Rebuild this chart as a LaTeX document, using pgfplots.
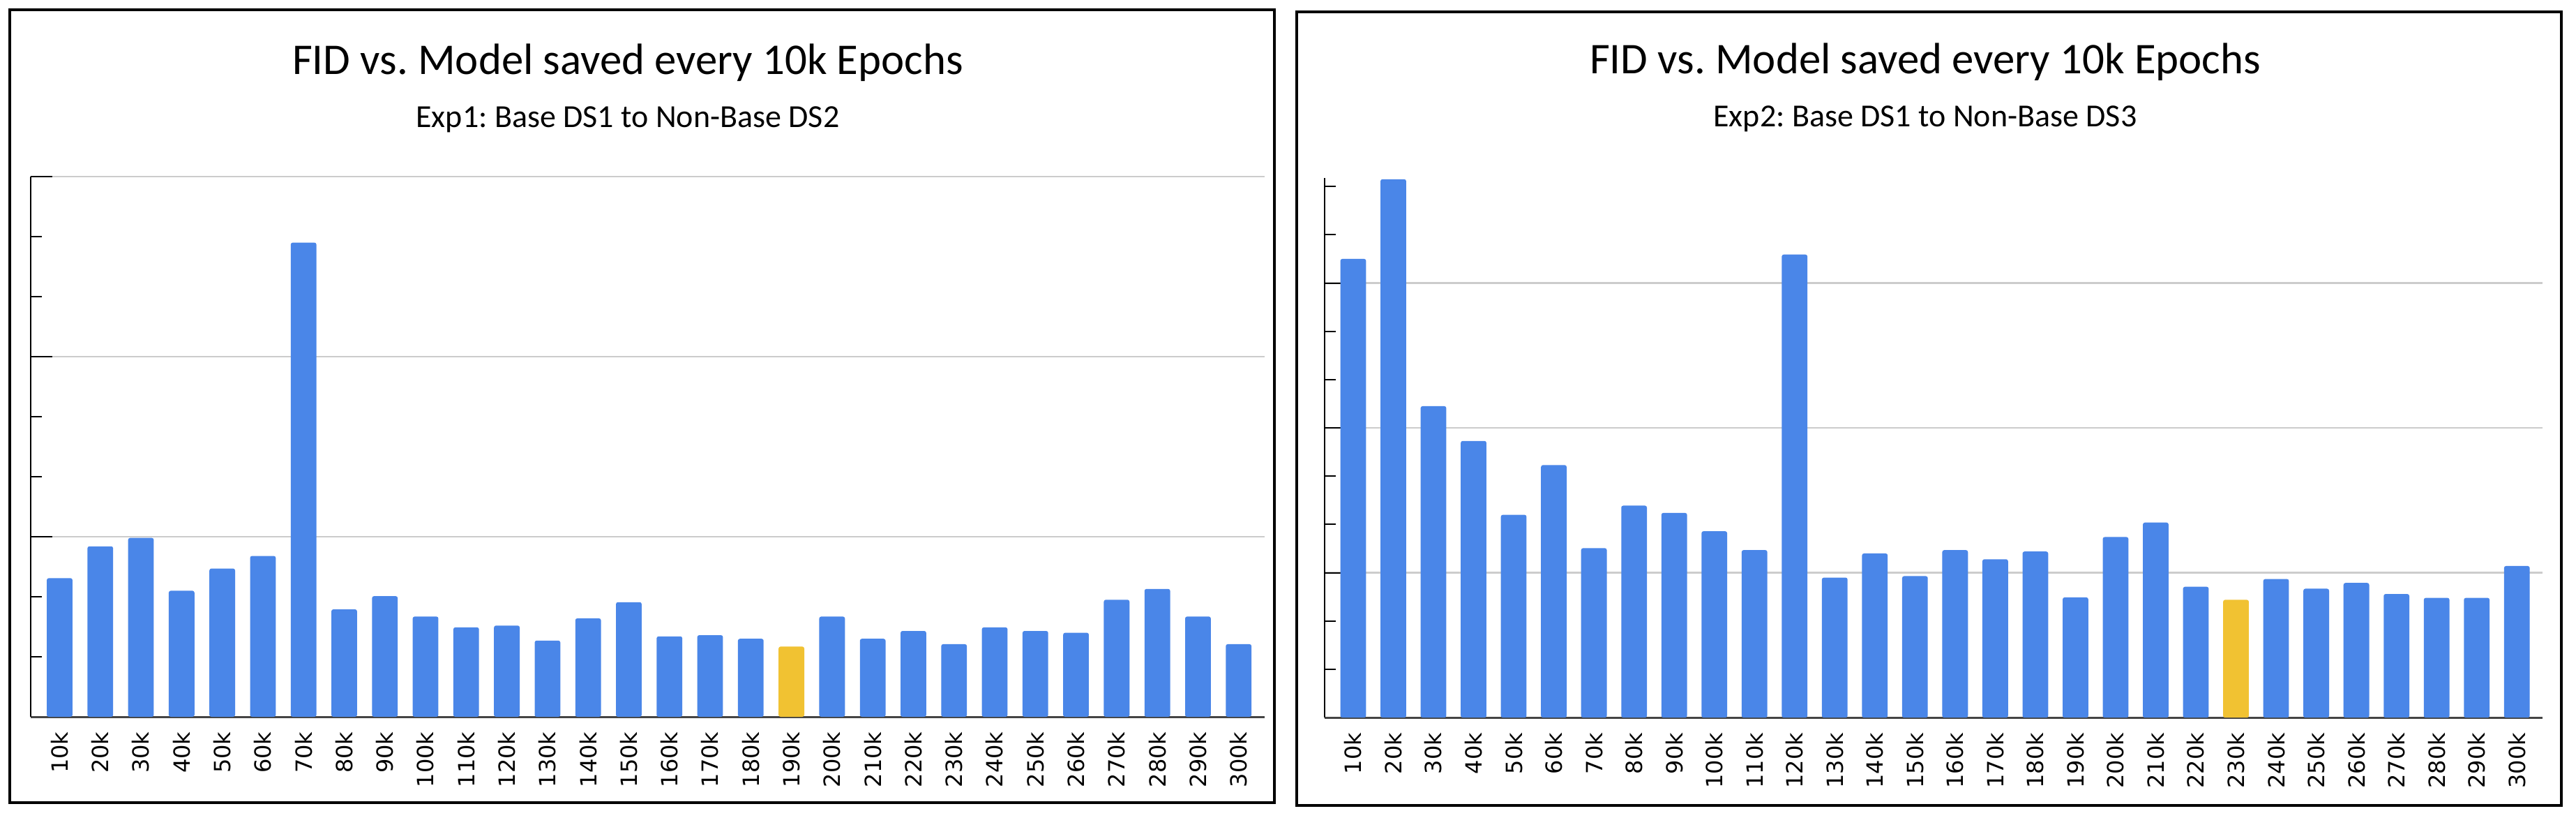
\documentclass[border=0pt]{standalone}
\usepackage{pgfplots}
\pgfplotsset{compat=1.18}
\usepackage{fontspec}
\newfontfamily\carlito{Carlito}
\newfontfamily\dejavu{DejaVu Sans}
\definecolor{barblue}{HTML}{4A86E8}
\definecolor{baryellow}{HTML}{F1C232}
\definecolor{gridgray}{HTML}{CCCCCC}
\definecolor{axisgray}{HTML}{444444}
\frenchspacing
\pgfplotsset{
  fidstyle/.style={
    anchor=south west, scale only axis,
    xmin=-0.712, xmax=29.64, ymin=0,
    ybar, bar width=9.2pt, bar shift=0pt,
    axis x line*=bottom, axis y line*=left,
    x axis line style={draw=axisgray, line width=0.75pt},
    y axis line style={draw=black, line width=0.5pt},
    xtick={0,...,29},
    xticklabels={10k,20k,30k,40k,50k,60k,70k,80k,90k,100k,110k,120k,130k,140k,150k,160k,170k,180k,190k,200k,210k,220k,230k,240k,250k,260k,270k,280k,290k,300k},
    x tick style={draw=none},
    xticklabel style={font=\dejavu\fontsize{8pt}{9pt}\selectfont, rotate=90, anchor=east, inner sep=0pt},
    xticklabel shift=5.2pt,
    ytick={0,3,6,9},
    yticklabels={,,,,},
    y tick style={draw=black, line width=0.5pt},
    minor y tick style={draw=black, line width=0.5pt},
    tick align=inside, major tick length=7.75pt, minor tick length=4pt,
    ymajorgrids, major grid style={draw=gridgray, line width=0.6pt},
    every axis plot/.append style={draw=none, rounded corners=0.7pt},
  }
}
\begin{document}
\begin{tikzpicture}
\fill[white] (0,0) rectangle (923.25pt,292.75pt);
\useasboundingbox (0,0) rectangle (923.25pt,292.75pt);
% frames
\draw[black, line width=0.9pt] (3.5pt,5.25pt) rectangle (456.75pt,289.25pt);
\draw[black, line width=0.9pt] (464.75pt,4.25pt) rectangle (918pt,288.5pt);
% titles
\node[anchor=base, inner sep=0pt, font=\carlito\fontsize{15.7pt}{18pt}\selectfont] at (225pt,266pt) {FID vs. Model saved every 10k Epochs};
\node[anchor=base, inner sep=0pt, font=\carlito\fontsize{11.5pt}{13pt}\selectfont] at (225pt,247.25pt) {Exp1: Base DS1 to Non-Base DS2};
\node[anchor=base, inner sep=0pt, font=\carlito\fontsize{15.7pt}{18pt}\selectfont] at (690pt,266.5pt) {FID vs. Model saved every 10k Epochs};
\node[anchor=base, inner sep=0pt, font=\carlito\fontsize{11.5pt}{13pt}\selectfont] at (690pt,247.5pt) {Exp2: Base DS1 to Non-Base DS3};

\begin{axis}[fidstyle, at={(11pt,36pt)}, width=442.25pt, height=193.5pt,
  ymax=9, minor ytick={1,2,4,5,7,8}]
\addplot[fill=barblue] coordinates {
(0,2.31) (1,2.84) (2,2.98) (3,2.10) (4,2.47) (5,2.68) (6,7.90) (7,1.79) (8,2.01) (9,1.67)
(10,1.49) (11,1.52) (12,1.27) (13,1.64) (14,1.91) (15,1.34) (16,1.36) (17,1.30)
(19,1.67) (20,1.30) (21,1.43) (22,1.21) (23,1.49) (24,1.43) (25,1.40) (26,1.95) (27,2.13) (28,1.67) (29,1.21)};
\addplot[fill=baryellow] coordinates {(18,1.17)};
\end{axis}

\begin{axis}[fidstyle, at={(474.75pt,35.7pt)}, width=436.5pt, height=193.2pt,
  ymax=11.17, minor ytick={1,2,4,5,7,8,10,11}]
\addplot[fill=barblue] coordinates {
(0,9.50) (1,11.15) (2,6.45) (3,5.73) (4,4.20) (5,5.23) (6,3.51) (7,4.39) (8,4.24) (9,3.86)
(10,3.47) (11,9.59) (12,2.90) (13,3.40) (14,2.93) (15,3.47) (16,3.28) (17,3.44) (18,2.49)
(19,3.74) (20,4.04) (21,2.71) (23,2.87) (24,2.67) (25,2.79) (26,2.56) (27,2.48) (28,2.48) (29,3.14)};
\addplot[fill=baryellow] coordinates {(22,2.44)};
\end{axis}
\end{tikzpicture}
\end{document}
